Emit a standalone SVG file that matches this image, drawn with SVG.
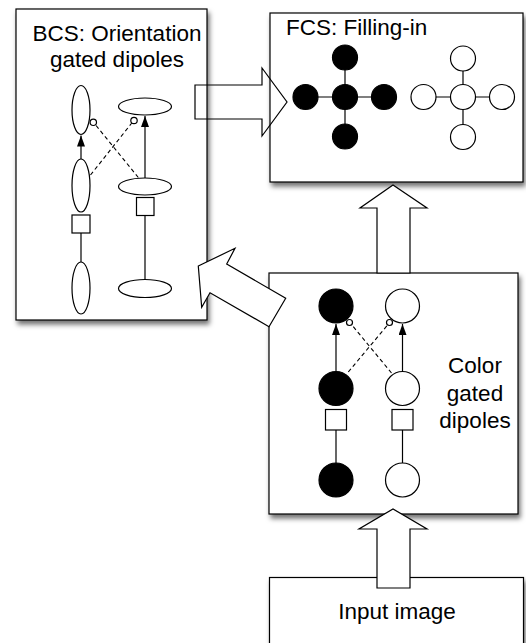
<svg xmlns="http://www.w3.org/2000/svg" width="526" height="643" viewBox="0 0 526 643">
<defs>
<filter id="sh" x="-10%" y="-10%" width="125%" height="125%">
<feDropShadow dx="2" dy="4" stdDeviation="2.5" flood-color="#000" flood-opacity="0.55"/>
</filter>
<marker id="ah" viewBox="0 0 11 8" refX="11" refY="4" markerWidth="11" markerHeight="8" markerUnits="userSpaceOnUse" orient="auto">
<path d="M0,0 L11,4 L0,8 Z" fill="#000"/>
</marker>
<style>
.box{fill:#fff;stroke:#000;stroke-width:1.2;filter:url(#sh)}
.t{font-family:"Liberation Sans",Arial,sans-serif;font-size:22.5px;fill:#000}
.o{fill:#fff;stroke:#000;stroke-width:1.2}
.k{fill:#000;stroke:#000;stroke-width:1.2}
.ln{stroke:#000;stroke-width:1.2;fill:none}
.ds{stroke:#000;stroke-width:1.1;fill:none;stroke-dasharray:4 3}
.big{stroke:#000;stroke-width:1.2;stroke-linejoin:miter}
</style>
</defs>

<g id="bcs">
<rect class="box" x="16" y="9" width="191" height="311"/>
<text class="t" x="117" y="41" text-anchor="middle">BCS: Orientation</text>
<text class="t" x="117" y="67" text-anchor="middle">gated dipoles</text>
<ellipse class="o" cx="81" cy="110" rx="9" ry="24.5"/>
<ellipse class="o" cx="81" cy="185.5" rx="9" ry="26.5"/>
<rect class="o" x="72" y="215" width="18" height="18"/>
<ellipse class="o" cx="81" cy="288" rx="9" ry="26"/>
<ellipse class="o" cx="145" cy="106.5" rx="26.5" ry="8.5"/>
<ellipse class="o" cx="145" cy="186.5" rx="26.5" ry="8.5"/>
<rect class="o" x="136.5" y="197.5" width="17.5" height="18"/>
<ellipse class="o" cx="145" cy="288.5" rx="26.5" ry="9"/>
<line class="ln" x1="81" y1="233" x2="81" y2="262"/>
<line class="ln" x1="145" y1="215.5" x2="145" y2="279.5"/>
<line class="ln" x1="81" y1="159" x2="81" y2="135.5" marker-end="url(#ah)"/>
<line class="ln" x1="145" y1="178" x2="145" y2="116" marker-end="url(#ah)"/>
<line class="ds" x1="90.5" y1="175" x2="131.8" y2="123"/>
<line class="ds" x1="138.3" y1="177.5" x2="95.5" y2="124.8"/>
<circle class="o" cx="134" cy="120.5" r="3.2"/>
<circle class="o" cx="93.3" cy="122.3" r="3.2"/>
</g>

<g id="fcs">
<rect class="box" x="270" y="13" width="253" height="169"/>
<text class="t" x="286" y="35">FCS: Filling-in</text>
<line class="ln" x1="305" y1="97" x2="384" y2="97"/>
<line class="ln" x1="345" y1="57" x2="345" y2="136"/>
<circle class="k" cx="345" cy="97" r="12.5"/>
<circle class="k" cx="345" cy="57.5" r="12.5"/>
<circle class="k" cx="345" cy="136.5" r="12.5"/>
<circle class="k" cx="305.5" cy="97" r="12.5"/>
<circle class="k" cx="384" cy="97" r="12.5"/>
<line class="ln" x1="423.5" y1="97" x2="502" y2="97"/>
<line class="ln" x1="463" y1="58" x2="463" y2="137"/>
<circle class="o" cx="463" cy="97" r="12.5"/>
<circle class="o" cx="463" cy="58.5" r="12.5"/>
<circle class="o" cx="463" cy="137" r="12.5"/>
<circle class="o" cx="423.5" cy="97" r="12.5"/>
<circle class="o" cx="502" cy="97" r="12.5"/>
</g>

<g id="color">
<rect class="box" x="269" y="273" width="249" height="241"/>
<text class="t" x="475" y="373" text-anchor="middle">Color</text>
<text class="t" x="475" y="401" text-anchor="middle">gated</text>
<text class="t" x="475" y="428" text-anchor="middle">dipoles</text>
<line class="ln" x1="336" y1="430" x2="336" y2="463"/>
<line class="ln" x1="402.5" y1="430" x2="402.5" y2="463"/>
<line class="ln" x1="336" y1="371" x2="336" y2="324" marker-end="url(#ah)"/>
<line class="ln" x1="402.5" y1="371" x2="402.5" y2="324" marker-end="url(#ah)"/>
<line class="ds" x1="348.3" y1="372" x2="388" y2="324.5"/>
<line class="ds" x1="391.5" y1="373" x2="351.5" y2="324.5"/>
<circle class="k" cx="336" cy="306" r="17"/>
<circle class="k" cx="336" cy="388.5" r="17"/>
<circle class="k" cx="336" cy="480" r="17"/>
<circle class="o" cx="402.5" cy="306" r="17"/>
<circle class="o" cx="402.5" cy="388.5" r="17"/>
<circle class="o" cx="402.5" cy="480" r="17"/>
<rect class="o" x="325.5" y="409.5" width="21" height="20.5"/>
<rect class="o" x="392" y="409.5" width="21" height="20.5"/>
<circle class="o" cx="349.5" cy="322.5" r="3"/>
<circle class="o" cx="389.5" cy="322.5" r="3"/>
</g>

<g id="input">
<rect class="box" x="269.5" y="577.5" width="254" height="80"/>
<text class="t" x="397" y="619" text-anchor="middle">Input image</text>
</g>

<g id="connectors">
<polygon class="big" fill="none" points="195,85 262,85 262,68 287,102 262,136 262,119 195,119"/>
<polygon class="big" fill="#fff" points="198.3,266 235,248.3 226.7,264 285.7,298.3 269,326.7 210,292.7 201.7,307.3"/>
<polygon class="big" fill="#fff" points="377,273 377,208 360,208 393,185 427,208 410,208 410,273"/>
<polygon class="big" fill="#fff" points="377,588 377,529 359,529 393,509 427,529 410,529 410,588"/>
</g>
</svg>
